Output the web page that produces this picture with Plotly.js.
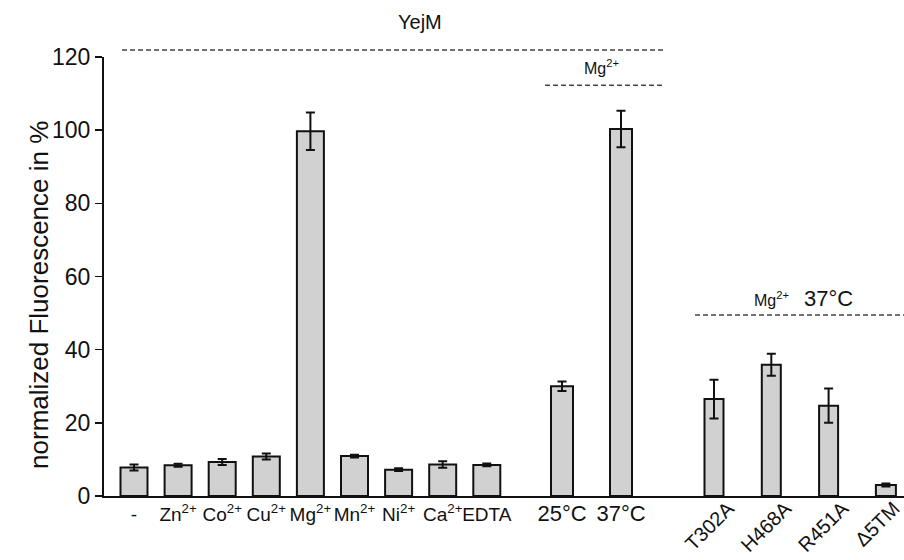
<!DOCTYPE html>
<html>
<head>
<meta charset="utf-8">
<script src="https://cdn.plot.ly/plotly-3.0.1.min.js"></script>
<style>html,body{margin:0;padding:0;background:#fff;}#chart{width:904px;height:560px;}</style>
</head>
<body>
<div id="chart"></div>
<script>
// ---- data ----
const ionLabels = ['-', 'Zn<sup>2+</sup>', 'Co<sup>2+</sup>', 'Cu<sup>2+</sup>', 'Mg<sup>2+</sup>', 'Mn<sup>2+</sup>', 'Ni<sup>2+</sup>', 'Ca<sup>2+</sup>', 'EDTA'];
const ionValues = [7.8, 8.4, 9.3, 10.8, 99.7, 10.9, 7.2, 8.6, 8.5];
const ionErrors = [0.8, 0.4, 0.8, 0.8, 5.1, 0.4, 0.4, 0.9, 0.4];

const tempLabels = ['25°C', '37°C'];
const tempValues = [30.0, 100.3];
const tempErrors = [1.3, 5.0];

const mutLabels = ['T302A', 'H468A', 'R451A', 'Δ5TM'];
const mutValues = [26.5, 35.9, 24.7, 3.0];
const mutErrors = [5.3, 3.0, 4.7, 0.4];

// ---- layout helpers (positions on a 0..800 axis) ----
const pos1 = ionLabels.map((_, i) => 30 + 44.1 * i);
const pos2 = tempLabels.map((_, i) => 458 + 59 * i);
const pos3 = mutLabels.map((_, i) => 610 + 57.3 * i);
const labelShift3 = [14, 14, 14, 8];

const fill = '#d1d1d1';
const edge = '#111111';
const errStyle = (arr) => ({type: 'data', array: arr, visible: true, color: '#111', thickness: 2, width: 4.5});

const traces = [
  {type: 'bar', x: pos1, y: ionValues, width: 27, error_y: errStyle(ionErrors),
   marker: {color: fill, line: {color: edge, width: 2}}, hoverinfo: 'y'},
  {type: 'bar', x: pos2, y: tempValues, width: 22, error_y: errStyle(tempErrors),
   marker: {color: fill, line: {color: edge, width: 2}}, hoverinfo: 'y'},
  {type: 'bar', x: pos3, y: mutValues, width: [19, 19, 19, 20], error_y: errStyle(mutErrors),
   xaxis: 'x2', marker: {color: fill, line: {color: edge, width: 2}}, hoverinfo: 'y'}
];

const font = 'Liberation Sans, Arial, sans-serif';
const dash = {color: '#444', width: 1.5, dash: '5px,3px'};

const layout = {
  width: 904, height: 560,
  margin: {l: 104, r: 0, t: 57, b: 64},
  paper_bgcolor: '#fff', plot_bgcolor: '#fff',
  showlegend: false,
  font: {family: font, color: '#111'},
  barmode: 'overlay',
  xaxis: {
    range: [0, 800], showgrid: false, zeroline: false,
    showline: true, linecolor: '#111', linewidth: 2,
    ticks: '', tickvals: pos1.concat(pos2),
    ticktext: ionLabels.concat(tempLabels.map(t => '<span style="font-size:22px">' + t + '</span>')),
    tickfont: {size: 19, family: font, color: '#111'}, tickangle: 0,
    fixedrange: true
  },
  xaxis2: {
    range: [0, 800], overlaying: 'x', anchor: 'y', side: 'bottom',
    showgrid: false, zeroline: false, showline: false, ticks: '',
    tickvals: pos3.map((p, i) => p + labelShift3[i]), ticktext: mutLabels, tickangle: -45,
    ticklabeloverflow: 'allow', ticklabelstandoff: -4,
    tickfont: {size: 20, family: font, color: '#111'}, fixedrange: true
  },
  yaxis: {
    range: [0, 120], tickvals: [0, 20, 40, 60, 80, 100, 120],
    showgrid: false, zeroline: false,
    showline: true, linecolor: '#111', linewidth: 2,
    ticks: 'outside', ticklen: 7, tickwidth: 1.5, tickcolor: '#111',
    tickfont: {size: 23, family: font, color: '#111'},
    fixedrange: true
  },
  shapes: [
    {type: 'line', xref: 'x', yref: 'paper', x0: 18, x1: 561, y0: 1.016, y1: 1.016, line: dash},
    {type: 'line', xref: 'x', yref: 'y', x0: 441, x1: 561, y0: 112.3, y1: 112.3, line: dash},
    {type: 'line', xref: 'x', yref: 'y', x0: 591, x1: 800, y0: 49.5, y1: 49.5, line: dash}
  ],
  annotations: [
    {text: 'normalized Fluorescence in %', xref: 'paper', yref: 'paper', x: -0.1025, y: 0.458,
     textangle: -90, showarrow: false, font: {size: 26, family: font, color: '#111'}},
    {text: 'YejM', xref: 'paper', yref: 'paper', x: 0.395, y: 1.11, showarrow: false,
     font: {size: 20, family: font, color: '#111'}},
    {text: 'Mg<sup>2+</sup>', xref: 'x', yref: 'y', x: 497, y: 117.3, showarrow: false,
     font: {size: 16, family: font, color: '#111'}},
    {text: 'Mg<sup>2+</sup>', xref: 'x', yref: 'y', x: 667, y: 53.9, showarrow: false,
     font: {size: 16, family: font, color: '#111'}},
    {text: '37°C', xref: 'x', yref: 'y', x: 724, y: 53.9, showarrow: false,
     font: {size: 22, family: font, color: '#111'}}
  ]
};

Plotly.newPlot('chart', traces, layout, {staticPlot: true, displayModeBar: false});
</script>
</body>
</html>
